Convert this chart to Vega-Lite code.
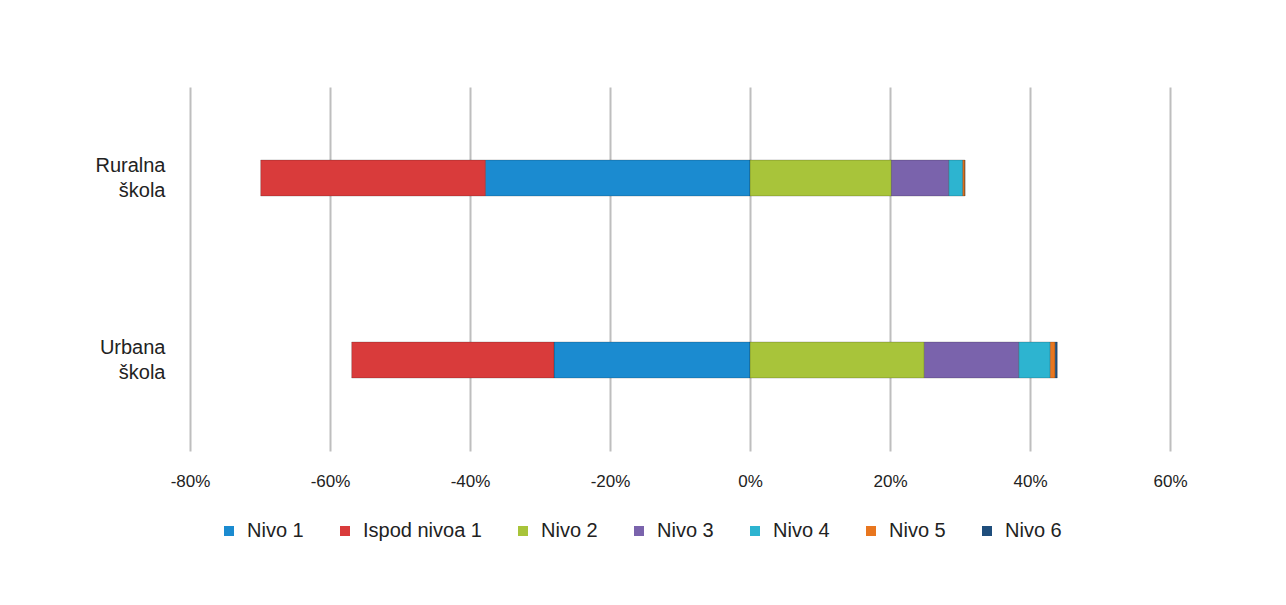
{
  "$schema": "https://vega.github.io/schema/vega-lite/v6.json",
  "width": 980,
  "height": 364,
  "autosize": {"type": "none"},
  "padding": {"left": 190, "top": 87, "right": 116, "bottom": 154},
  "background": "white",
  "config": {"view": {"stroke": null}, "font": "Liberation Sans"},
  "data": {
    "values": [
      {"school": "Ruralna škola", "level": "Nivo 1", "rank": 1, "value": -37.8},
      {"school": "Ruralna škola", "level": "Ispod nivoa 1", "rank": 2, "value": -32.1},
      {"school": "Ruralna škola", "level": "Nivo 2", "rank": 3, "value": 20.2},
      {"school": "Ruralna škola", "level": "Nivo 3", "rank": 4, "value": 8.2},
      {"school": "Ruralna škola", "level": "Nivo 4", "rank": 5, "value": 2.0},
      {"school": "Ruralna škola", "level": "Nivo 5", "rank": 6, "value": 0.3},
      {"school": "Ruralna škola", "level": "Nivo 6", "rank": 7, "value": 0.0},
      {"school": "Urbana škola", "level": "Nivo 1", "rank": 1, "value": -28.0},
      {"school": "Urbana škola", "level": "Ispod nivoa 1", "rank": 2, "value": -28.9},
      {"school": "Urbana škola", "level": "Nivo 2", "rank": 3, "value": 24.9},
      {"school": "Urbana škola", "level": "Nivo 3", "rank": 4, "value": 13.5},
      {"school": "Urbana škola", "level": "Nivo 4", "rank": 5, "value": 4.5},
      {"school": "Urbana škola", "level": "Nivo 5", "rank": 6, "value": 0.7},
      {"school": "Urbana škola", "level": "Nivo 6", "rank": 7, "value": 0.3}
    ]
  },
  "mark": {"type": "bar", "size": 36, "stroke": "#00000033", "strokeWidth": 1},
  "encoding": {
    "y": {
      "field": "school",
      "type": "nominal",
      "sort": ["Ruralna škola", "Urbana škola"],
      "scale": {"paddingInner": 0.5, "paddingOuter": 0.25},
      "axis": {
        "title": null,
        "domain": false,
        "ticks": false,
        "labelExpr": "split(datum.value, ' ')",
        "labelFont": "Liberation Sans",
        "labelFontSize": 20,
        "labelLineHeight": 25,
        "labelPadding": 25,
        "labelOffset": -12,
        "labelColor": "#222222"
      }
    },
    "x": {
      "field": "value",
      "type": "quantitative",
      "stack": "zero",
      "scale": {"domain": [-80, 60], "nice": false},
      "axis": {
        "title": null,
        "values": [-80, -60, -40, -20, 0, 20, 40, 60],
        "labelExpr": "datum.value + '%'",
        "labelAlign": "center",
        "labelFlush": false,
        "domain": false,
        "ticks": false,
        "grid": true,
        "gridColor": "#BEBEBE",
        "gridWidth": 2,
        "labelFont": "Liberation Sans",
        "labelFontSize": 17,
        "labelPadding": 22,
        "labelColor": "#222222"
      }
    },
    "color": {
      "field": "level",
      "type": "nominal",
      "scale": {
        "domain": ["Nivo 1", "Ispod nivoa 1", "Nivo 2", "Nivo 3", "Nivo 4", "Nivo 5", "Nivo 6"],
        "range": ["#1B8BD0", "#D93B3B", "#A8C43A", "#7A63AC", "#2DB4D0", "#E8761F", "#1F4E7C"]
      },
      "legend": {
        "title": null,
        "orient": "none",
        "direction": "horizontal",
        "legendX": 29,
        "legendY": 434,
        "symbolType": "square",
        "symbolSize": 100,
        "symbolStrokeWidth": 0,
        "labelFont": "Liberation Sans",
        "labelFontSize": 20,
        "labelOffset": 8,
        "labelColor": "#222222",
        "columnPadding": 31,
        "padding": 0
      }
    },
    "order": {"field": "rank", "type": "quantitative"}
  }
}
